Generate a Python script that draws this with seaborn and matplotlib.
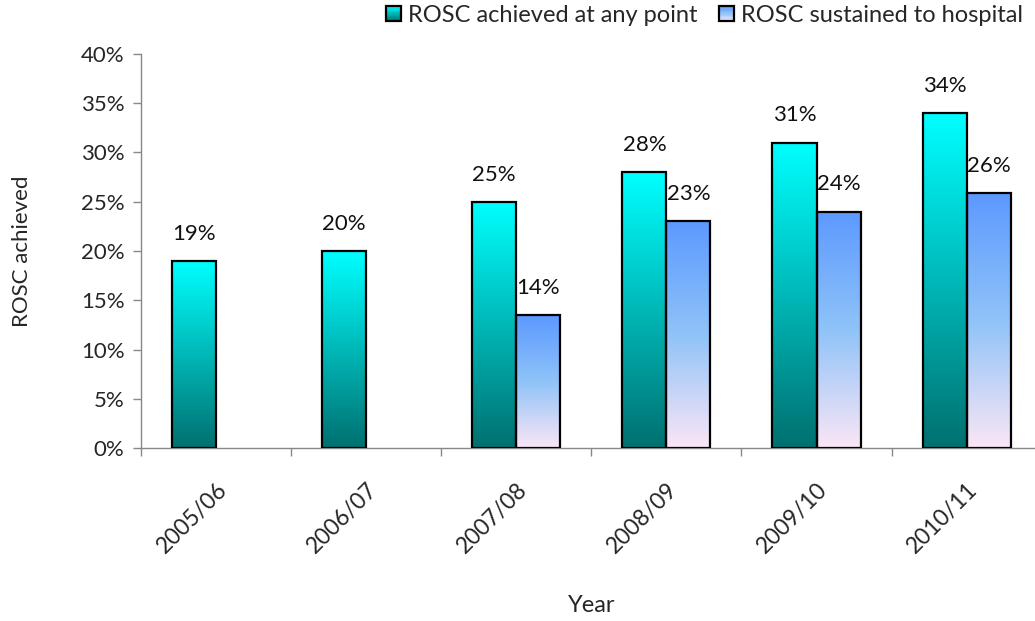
import numpy as np
import pandas as pd
import matplotlib
matplotlib.use("Agg")
import matplotlib.pyplot as plt
import matplotlib.transforms as mtransforms
import seaborn as sns
from matplotlib.colors import LinearSegmentedColormap
from matplotlib.patches import Rectangle
from matplotlib.legend_handler import HandlerBase

years = ["2005/06", "2006/07", "2007/08", "2008/09", "2009/10", "2010/11"]
rosc_any = [19, 20, 25, 28, 31, 34]
rosc_sustained = [np.nan, np.nan, 13.5, 23, 24, 25.9]
series_names = ["ROSC achieved at any point", "ROSC sustained to hospital"]

sns.set_theme(style="white")
plt.rcParams["font.family"] = ["Lato", "DejaVu Sans"]

# gradients run from the bottom of each bar (0) to its top (1)
cmap_any = LinearSegmentedColormap.from_list(
    "any", [(0.0, "#007070"), (0.5, "#00B8B8"), (1.0, "#00FFFF")])
cmap_sus = LinearSegmentedColormap.from_list(
    "sus", [(0.0, "#FBE6F6"), (0.5, "#8FC3F8"), (1.0, "#5C99FF")])
cmaps = {series_names[0]: cmap_any, series_names[1]: cmap_sus}

df = pd.DataFrame({
    "Year": years * 2,
    "Series": [series_names[0]] * len(years) + [series_names[1]] * len(years),
    "Value": rosc_any + rosc_sustained,
})

FS = 16

fig = plt.figure(figsize=(10.35, 6.21), dpi=100)
ax = fig.add_axes([141 / 1035, 173 / 621, 900.7 / 1035, 394 / 621])

sns.barplot(data=df, x="Year", y="Value", hue="Series", order=years,
            hue_order=series_names, errorbar=None, width=0.587,
            ax=ax, legend=False, saturation=1)

grad = np.linspace(0, 1, 256).reshape(-1, 1)
for container, name in zip(ax.containers, series_names):
    for bar in container.patches:
        h = bar.get_height()
        if not np.isfinite(h) or h <= 0:
            bar.set_visible(False)
            continue
        x0, w = bar.get_x(), bar.get_width()
        bar.set_facecolor("none")
        bar.set_edgecolor("black")
        bar.set_linewidth(1.6)
        bar.set_zorder(3)
        img = ax.imshow(grad, cmap=cmaps[name], origin="lower", aspect="auto",
                        extent=[x0, x0 + w, 0, h], zorder=2, interpolation="bilinear")
        img.set_clip_path(bar)
        ax.text(x0 + w / 2, h + 1.75, f"{h:.0f}%", ha="center", va="bottom",
                fontsize=FS, color="#111111")

ax.set_xlim(-0.5, len(years) - 0.5)
ax.set_ylim(0, 40)
ax.set_yticks(np.arange(0, 41, 5))
ax.set_yticklabels([f"{v}%" for v in range(0, 41, 5)], fontsize=FS)

# category boundaries carry the tick marks, labels sit at category centres
ax.set_xticks(np.arange(-0.5, len(years), 1.0))
ax.set_xticklabels([])
ax.set_xticks(np.arange(len(years)), minor=True)
ax.set_xticklabels(years, minor=True, rotation=45, ha="right",
                   rotation_mode="anchor", fontsize=FS + 0.5)
shift = mtransforms.ScaledTranslation(-5 / 100, 0, fig.dpi_scale_trans)
for lbl in ax.get_xticklabels(minor=True):
    lbl.set_transform(lbl.get_transform() + shift)
ax.tick_params(axis="x", which="minor", length=0, pad=22)
ax.tick_params(axis="x", which="major", length=6, width=1, color="#888888",
               direction="out", bottom=True)
ax.tick_params(axis="y", length=6, width=1, color="#888888", direction="out",
               left=True, pad=6)

for side in ["top", "right"]:
    ax.spines[side].set_visible(False)
for side in ["left", "bottom"]:
    ax.spines[side].set_color("#888888")
    ax.spines[side].set_linewidth(1)

ax.set_xlabel("Year", fontsize=17, va="center", labelpad=0)
ax.xaxis.set_label_coords(0.5, -(605 - 448) / 394)
ax.set_ylabel("ROSC achieved", fontsize=16, va="center")
ax.yaxis.set_label_coords(-(141 - 22) / 900.7, 0.5)


class GradientHandler(HandlerBase):
    def __init__(self, cmap):
        super().__init__()
        self.cmap = cmap

    def create_artists(self, legend, orig_handle, xdescent, ydescent,
                       width, height, fontsize, trans):
        s = height * 1.0
        x = -xdescent + (width - s) / 2
        y = -ydescent
        artists = []
        n = 12
        for i in range(n):
            artists.append(Rectangle((x, y + s * i / n), s, s / n + 0.3,
                                     facecolor=self.cmap((i + 0.5) / n),
                                     edgecolor="none", transform=trans))
        artists.append(Rectangle((x, y), s, s, facecolor="none",
                                 edgecolor="black", linewidth=1.6, transform=trans))
        return artists


handles = [Rectangle((0, 0), 1, 1), Rectangle((0, 0), 1, 1)]
fig.legend(handles, series_names, loc="upper right",
           bbox_to_anchor=(1028 / 1035, 1.0), ncol=2, frameon=False, fontsize=17,
           handlelength=0.64, handleheight=0.64, handletextpad=0.3,
           columnspacing=0.9, borderaxespad=0.0, borderpad=0.2,
           handler_map={handles[0]: GradientHandler(cmap_any),
                        handles[1]: GradientHandler(cmap_sus)})

fig.savefig("out.png", dpi=100)
